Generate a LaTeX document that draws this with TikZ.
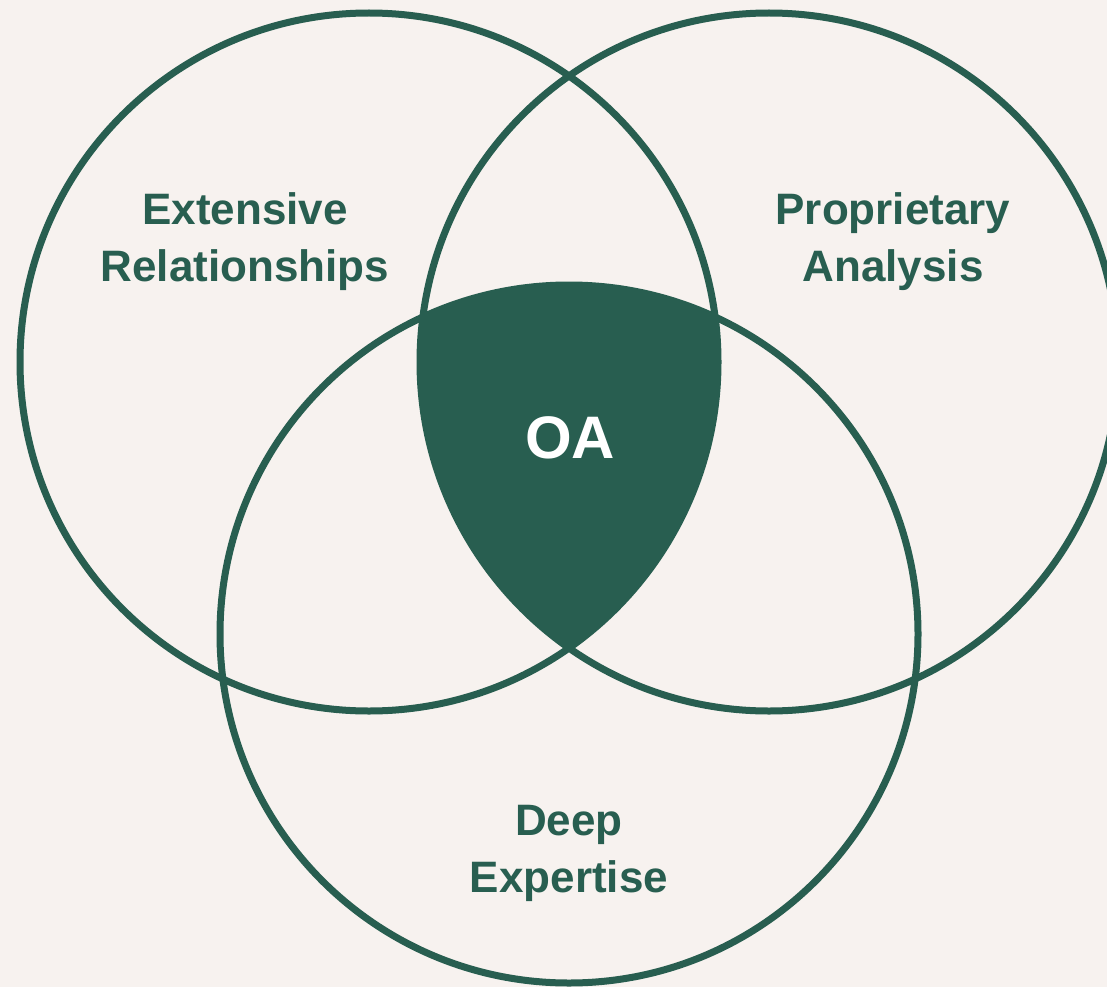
\documentclass[tikz,border=0pt]{standalone}
\usepackage{fontspec}
\setmainfont{Liberation Sans}
\definecolor{bg}{HTML}{F7F2EF}
\definecolor{oagreen}{HTML}{285E50}
\begin{document}
\begin{tikzpicture}[x=1pt,y=-1pt,
  ring/.style={draw=oagreen,line width=7pt},
  lbl/.style={text=oagreen,font=\fontsize{44}{57}\selectfont\bfseries,align=center}]
\fill[bg] (0,0) rectangle (1107,987);
\useasboundingbox (0,0) rectangle (1107,987);
\coordinate (cl) at (369,362);
\coordinate (cr) at (769,362);
\coordinate (cb) at (569,634);
\begin{scope}
  \clip (cl) circle[radius=349pt];
  \clip (cr) circle[radius=349pt];
  \fill[oagreen] (cb) circle[radius=349pt];
\end{scope}
\draw[ring] (cl) circle[radius=349pt];
\draw[ring] (cr) circle[radius=349pt];
\draw[ring] (cb) circle[radius=349pt];
\node[lbl] (er) at (245,242) {Extensive\\Relationships};
\node[lbl] (pa) at (893,242) {Proprietary\\Analysis};
\node[lbl] (de) at (569,853) {Deep\\Expertise};
\node[text=white,font=\fontsize{60}{70}\selectfont\bfseries] (oa) at (570,438) {OA};
\end{tikzpicture}
\end{document}
